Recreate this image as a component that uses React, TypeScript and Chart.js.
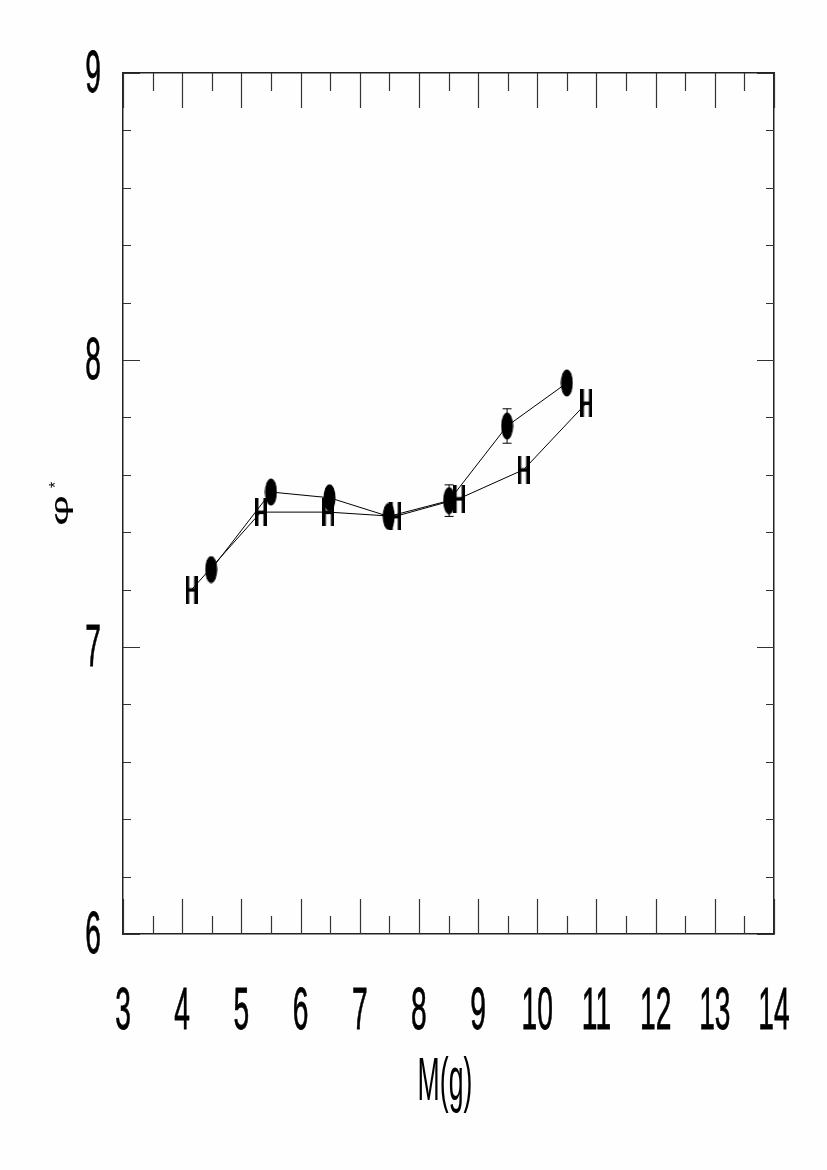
import React, { useEffect, useRef } from 'react';
import { Chart, registerables } from 'chart.js';

Chart.register(...registerables);

// Series with filled ellipse markers (with vertical error bars)
const xA = [4.49, 5.5, 6.49, 7.49, 8.51, 9.49, 10.5];
const yA = [7.27, 7.54, 7.52, 7.455, 7.51, 7.77, 7.92];
const errA = [0.03, 0.03, 0.03, 0.03, 0.055, 0.06, 0.03];

// Series with "H" markers
const xB = [4.16, 5.33, 6.47, 7.6, 8.68, 9.77, 10.83];
const yB = [7.2, 7.47, 7.47, 7.455, 7.517, 7.618, 7.85];

const xTickLabels = ['3', '4', '5', '6', '7', '8', '9', '10', '11', '12', '13', '14'];
const yTickLabels = ['6', '7', '8', '9'];
const xTitle = 'M(g)';
const yTitle = 'φ';
const yTitleSup = '*';

const FONT = "'Liberation Sans', Arial, sans-serif";

function makeH(): HTMLCanvasElement {
  const c = document.createElement('canvas');
  c.width = 12;
  c.height = 28;
  const g = c.getContext('2d')!;
  g.fillStyle = '#000';
  g.fillRect(0, 0, 3.5, 28);
  g.fillRect(8.5, 0, 3.5, 28);
  g.fillRect(0, 12.5, 12, 3.5);
  return c;
}

function makeEllipse(): HTMLCanvasElement {
  const c = document.createElement('canvas');
  c.width = 13;
  c.height = 28;
  const g = c.getContext('2d')!;
  g.fillStyle = '#000';
  g.beginPath();
  g.ellipse(6.5, 14, 6, 13.5, 0, 0, Math.PI * 2);
  g.fill();
  return c;
}

const frameTicks = {
  id: 'frameTicks',
  beforeDatasetsDraw(chart: any) {
    const { ctx, chartArea } = chart;
    const xs = chart.scales.x;
    const ys = chart.scales.y;
    ctx.save();
    ctx.strokeStyle = '#333';
    ctx.lineWidth = 1.2;
    ctx.beginPath();
    for (let v = 3; v <= 14.0001; v += 0.5) {
      const px = Math.round(xs.getPixelForValue(v)) + 0.5;
      const major = Math.abs(v - Math.round(v)) < 1e-6;
      const len = major ? 35 : 18;
      ctx.moveTo(px, chartArea.bottom);
      ctx.lineTo(px, chartArea.bottom - len);
      ctx.moveTo(px, chartArea.top);
      ctx.lineTo(px, chartArea.top + len);
    }
    for (let i = 0; i <= 15; i++) {
      const v = 6 + i * 0.2;
      const py = Math.round(ys.getPixelForValue(v)) + 0.5;
      const major = i % 5 === 0;
      const len = major ? 17 : 8;
      ctx.moveTo(chartArea.left, py);
      ctx.lineTo(chartArea.left + len, py);
      ctx.moveTo(chartArea.right, py);
      ctx.lineTo(chartArea.right - len, py);
    }
    ctx.stroke();

    // error bars on series A
    ctx.strokeStyle = '#000';
    ctx.lineWidth = 1;
    ctx.beginPath();
    for (let i = 0; i < xA.length; i++) {
      const px = xs.getPixelForValue(xA[i]);
      const top = ys.getPixelForValue(yA[i] + errA[i]);
      const bot = ys.getPixelForValue(yA[i] - errA[i]);
      ctx.moveTo(px, top);
      ctx.lineTo(px, bot);
      ctx.moveTo(px - 4.5, top);
      ctx.lineTo(px + 4.5, top);
      ctx.moveTo(px - 4.5, bot);
      ctx.lineTo(px + 4.5, bot);
    }
    ctx.stroke();
    ctx.restore();
  },
  afterDraw(chart: any) {
    const { ctx } = chart;
    const xs = chart.scales.x;
    const ys = chart.scales.y;
    ctx.save();
    ctx.fillStyle = '#000';
    ctx.strokeStyle = '#000';
    ctx.lineWidth = 0.8;
    ctx.textAlign = 'center';
    ctx.textBaseline = 'middle';
    ctx.font = `60px ${FONT}`;
    const sx = 0.47;
    xTickLabels.forEach((t) => {
      const px = xs.getPixelForValue(Number(t));
      ctx.save();
      ctx.translate(px, 1012);
      ctx.scale(sx, 1);
      ctx.fillText(t, 0, 0);
      ctx.strokeText(t, 0, 0);
      ctx.restore();
    });
    yTickLabels.forEach((t) => {
      const py = ys.getPixelForValue(Number(t));
      ctx.save();
      ctx.translate(93, py + 2);
      ctx.scale(sx, 1);
      ctx.fillText(t, 0, 0);
      ctx.strokeText(t, 0, 0);
      ctx.restore();
    });
    // x title
    ctx.save();
    ctx.textBaseline = 'alphabetic';
    ctx.font = `62px ${FONT}`;
    ctx.translate(445, 1100);
    ctx.scale(0.43, 1);
    ctx.fillText(xTitle, 0, 0);
    ctx.restore();
    // y title (rotated)
    ctx.save();
    ctx.textBaseline = 'alphabetic';
    ctx.textAlign = 'left';
    ctx.translate(68, 526);
    ctx.rotate(-Math.PI / 2);
    ctx.save();
    ctx.scale(2.0, 1);
    ctx.font = `24px ${FONT}`;
    ctx.fillText(yTitle, 0, 0);
    ctx.restore();
    ctx.font = `16px ${FONT}`;
    ctx.fillText(yTitleSup, 38, -7);
    ctx.restore();
    ctx.restore();
  },
};

const bg = {
  id: 'bg',
  beforeDraw(chart: any) {
    const { ctx, width, height } = chart;
    ctx.save();
    ctx.fillStyle = '#fefefe';
    ctx.fillRect(0, 0, width, height);
    ctx.restore();
  },
};

export default function App() {
  const ref = useRef<HTMLCanvasElement | null>(null);
  useEffect(() => {
    if (!ref.current) return;
    const hImg = makeH();
    const eImg = makeEllipse();
    const axisCommon = (pos: string, min: number, max: number) => ({
      type: 'linear' as const,
      position: pos,
      min,
      max,
      ticks: { display: false },
      grid: { display: false, drawTicks: false },
      border: { display: true, color: '#222', width: 1.5 },
      title: { display: false },
    });
    const chart = new Chart(ref.current, {
      type: 'scatter',
      data: {
        datasets: [
          {
            label: 'A',
            data: xA.map((x, i) => ({ x, y: yA[i] })),
            showLine: true,
            borderColor: '#000',
            borderWidth: 1,
            pointStyle: eImg as any,
            pointRadius: 6,
            backgroundColor: '#000',
          },
          {
            label: 'B',
            data: xB.map((x, i) => ({ x, y: yB[i] })),
            showLine: true,
            borderColor: '#000',
            borderWidth: 1,
            pointStyle: hImg as any,
            pointRadius: 6,
            backgroundColor: '#000',
          },
        ],
      },
      options: {
        responsive: false,
        animation: false,
        layout: { padding: { left: 123, top: 73, right: 53, bottom: 236 } },
        plugins: { legend: { display: false }, tooltip: { enabled: false } },
        scales: {
          x: axisCommon('bottom', 3, 14),
          y: axisCommon('left', 6, 9),
          x2: axisCommon('top', 3, 14),
          y2: axisCommon('right', 6, 9),
        } as any,
      },
      plugins: [bg, frameTicks],
    });
    return () => chart.destroy();
  }, []);
  return (
    <div style={{ position: 'fixed', left: 0, top: 0, width: 827, height: 1170, background: '#fefefe' }}>
      <canvas ref={ref} width={827} height={1170} style={{ display: 'block' }} />
    </div>
  );
}
